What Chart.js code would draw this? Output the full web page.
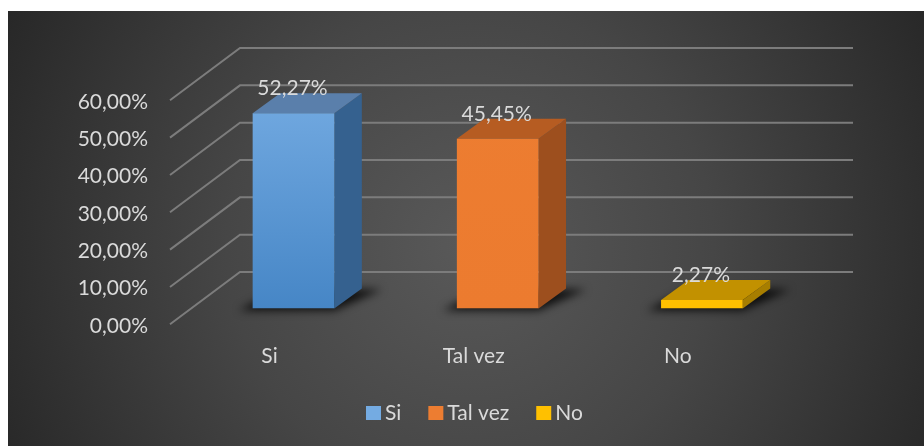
<!DOCTYPE html>
<html>
<head>
<meta charset="utf-8">
<script src="https://cdn.jsdelivr.net/npm/chart.js@4"></script>
<style>
  html, body { margin: 0; padding: 0; background: #fff; }
  canvas { display: block; }
</style>
</head>
<body>
<canvas id="grafico" width="924" height="446"></canvas>
<script>
/* ======================================================
   DATOS
====================================================== */
const categorias = ["Si", "Tal vez", "No"];
const porcentajes = [52.27, 45.45, 2.27];
const marcasY = [0, 10, 20, 30, 40, 50, 60];

/* ======================================================
   COLORES
====================================================== */
const colorFrenteArriba = ["#74abe2", "#ed7d31", "#ffc000"];
const colorFrenteAbajo = ["#4686c6", "#ec7b2f", "#ffc000"];
const colorLado = ["#35618f", "#9d4f1e", "#a77e00"];
const colorTapa = ["#5a7fab", "#b65c22", "#c29100"];
const colorTexto = "#dadada";
const colorLinea = "#7c7c7c";
const fuente = "Lato, 'Open Sans', sans-serif";

/* ======================================================
   UTIL
====================================================== */
const PROF_X = 27.5, PROF_Y = -20;          // profundidad de las barras
const PARED_ATRAS_X = 240, PARED_ATRAS_DY = -36.5, PARED_FIN_X = 853;
const PARED_FRENTE_X = 170, PARED_FRENTE_DY = 15.8;

function fmt(v) {
  return v.toFixed(2).replace(".", ",") + "%";
}

function poligono(ctx, pts, color) {
  ctx.beginPath();
  ctx.moveTo(pts[0][0], pts[0][1]);
  for (let i = 1; i < pts.length; i++) ctx.lineTo(pts[i][0], pts[i][1]);
  ctx.closePath();
  ctx.fillStyle = color;
  ctx.fill();
}

/* ======================================================
   PLUGIN 3D
====================================================== */
const efecto3d = {
  id: "efecto3d",
  beforeDraw(chart) {
    const ctx = chart.ctx;
    ctx.save();
    ctx.fillStyle = "#ffffff";
    ctx.fillRect(0, 0, chart.width, chart.height);
    const g = ctx.createRadialGradient(470, 245, 0, 470, 245, 540);
    g.addColorStop(0, "#595959");
    g.addColorStop(0.45, "#464646");
    g.addColorStop(1, "#252525");
    ctx.fillStyle = g;
    ctx.fillRect(8, 11, chart.width - 8, chart.height - 11);
    ctx.restore();
  },
  beforeDatasetsDraw(chart) {
    const ctx = chart.ctx;
    const y = chart.scales.y;
    const meta = chart.getDatasetMeta(0);

    // paredes: lineas de division
    ctx.save();
    ctx.strokeStyle = colorLinea;
    ctx.lineWidth = 2;
    marcasY.forEach(v => {
      const py = y.getPixelForValue(v);
      ctx.beginPath();
      ctx.moveTo(PARED_FRENTE_X, py + PARED_FRENTE_DY);
      ctx.lineTo(PARED_ATRAS_X, py + PARED_ATRAS_DY);
      ctx.lineTo(PARED_FIN_X, py + PARED_ATRAS_DY);
      ctx.stroke();
    });
    ctx.restore();

    // sombras
    meta.data.forEach(bar => {
      const L = bar.x - bar.width / 2, R = bar.x + bar.width / 2, b = bar.base;
      ctx.save();
      ctx.filter = "blur(4px)";
      poligono(ctx, [
        [L - 14, b + 2], [R, b + 2],
        [R + PROF_X + 20, b + PROF_Y + 1], [L + PROF_X, b + PROF_Y]
      ], "rgba(0,0,0,0.8)");
      ctx.restore();
    });

    // caras laterales y tapas
    meta.data.forEach((bar, i) => {
      const L = bar.x - bar.width / 2, R = bar.x + bar.width / 2;
      const t = bar.y, b = bar.base;
      ctx.save();
      poligono(ctx, [
        [R, t], [R + PROF_X, t + PROF_Y], [R + PROF_X, b + PROF_Y], [R, b]
      ], colorLado[i]);
      poligono(ctx, [
        [L, t], [L + PROF_X, t + PROF_Y], [R + PROF_X, t + PROF_Y], [R, t]
      ], colorTapa[i]);
      ctx.restore();
    });
  },
  afterDatasetsDraw(chart) {
    const ctx = chart.ctx;
    const meta = chart.getDatasetMeta(0);
    ctx.save();
    ctx.font = "21px " + fuente;
    ctx.fillStyle = colorTexto;
    ctx.textAlign = "center";
    ctx.textBaseline = "middle";
    meta.data.forEach((bar, i) => {
      ctx.fillText(fmt(porcentajes[i]), bar.x - 1, bar.y - 25);
    });
    ctx.restore();
  },
  afterDraw(chart) {
    const ctx = chart.ctx;
    const y = chart.scales.y;
    const x = chart.scales.x;
    ctx.save();
    ctx.font = "21px " + fuente;
    ctx.fillStyle = colorTexto;
    ctx.textBaseline = "middle";

    // eje Y
    ctx.textAlign = "right";
    marcasY.forEach(v => {
      ctx.fillText(fmt(v), 148, y.getPixelForValue(v) + 17.5);
    });

    // eje X
    ctx.textAlign = "center";
    categorias.forEach((c, i) => {
      ctx.fillText(c, x.getPixelForValue(i) - 24, 356);
    });

    // leyenda
    ctx.textAlign = "left";
    let lx = 366;
    const ly = 413;
    categorias.forEach((c, i) => {
      ctx.fillStyle = colorFrenteArriba[i];
      ctx.fillRect(lx, ly - 7, 15, 14);
      ctx.fillStyle = colorTexto;
      ctx.fillText(c, lx + 19, ly);
      lx += 19 + ctx.measureText(c).width + 27;
    });
    ctx.restore();
  }
};

/* ======================================================
   GRAFICO
====================================================== */
new Chart(document.getElementById("grafico"), {
  type: "bar",
  data: {
    labels: categorias,
    datasets: [{
      data: porcentajes,
      borderWidth: 0,
      backgroundColor: c => {
        const area = c.chart.chartArea;
        if (!area) return colorFrenteArriba[c.dataIndex];
        const g = c.chart.ctx.createLinearGradient(0, area.top, 0, area.bottom);
        g.addColorStop(0, colorFrenteArriba[c.dataIndex]);
        g.addColorStop(1, colorFrenteAbajo[c.dataIndex]);
        return g;
      },
      categoryPercentage: 1,
      barPercentage: 0.4
    }]
  },
  options: {
    responsive: false,
    animation: false,
    layout: { padding: { left: 191.4, right: 120, top: 84.5, bottom: 137.5 } },
    scales: {
      x: { display: false, offset: true },
      y: { display: false, min: 0, max: 60 }
    },
    plugins: {
      legend: { display: false },
      tooltip: { enabled: false }
    }
  },
  plugins: [efecto3d]
});
</script>
</body>
</html>
